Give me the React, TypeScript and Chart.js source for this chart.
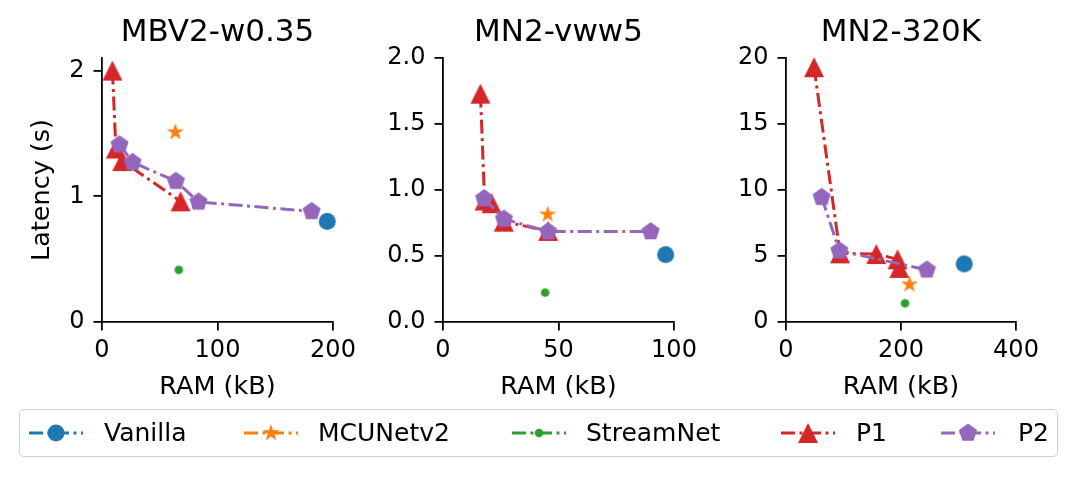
import React, { useEffect, useRef } from "react";
import { Chart, registerables } from "chart.js";

Chart.register(...registerables);

type Pt = [number, number];
type Shape = "circle" | "star" | "triangle" | "pentagon";

const FONT = "'DejaVu Sans', sans-serif";

// series (same order in every panel)
const seriesNames = ["Vanilla", "MCUNetv2", "StreamNet", "P1", "P2"];
const seriesColors = ["#1f77b4", "#ff7f0e", "#2ca02c", "#d62728", "#9467bd"];
const seriesShapes: Shape[] = ["circle", "star", "circle", "triangle", "pentagon"];
const seriesSizes = [8.5, 9, 4.3, 10, 9.5];

// MBV2-w0.35
const mbvVanilla: Pt[] = [[195, 0.8]];
const mbvMcunet: Pt[] = [[63.5, 1.51]];
const mbvStream: Pt[] = [[66.5, 0.415]];
const mbvP1: Pt[] = [[9, 2.0], [12, 1.38], [17.5, 1.28], [68, 0.96]];
const mbvP2: Pt[] = [[15.2, 1.41], [26.5, 1.27], [64, 1.12], [83.5, 0.955], [181.5, 0.88]];
const mbvXTicks = [0, 100, 200];
const mbvYTicks = [0, 1, 2];

// MN2-vww5
const vwwVanilla: Pt[] = [[96.4, 0.51]];
const vwwMcunet: Pt[] = [[45.3, 0.815]];
const vwwStream: Pt[] = [[44.2, 0.223]];
const vwwP1: Pt[] = [[16.2, 1.73], [18, 0.92], [21, 0.9], [26.3, 0.76], [45.5, 0.69]];
const vwwP2: Pt[] = [[17.8, 0.935], [26.4, 0.78], [45.5, 0.685], [89.9, 0.685]];
const vwwXTicks = [0, 50, 100];
const vwwYTicks = [0, 0.5, 1.0, 1.5, 2.0];

// MN2-320K
const k320Vanilla: Pt[] = [[310, 4.4]];
const k320Mcunet: Pt[] = [[214.7, 2.85]];
const k320Stream: Pt[] = [[207, 1.42]];
const k320P1: Pt[] = [[48.7, 19.3], [94, 5.2], [157, 5.15], [194, 4.75], [197, 4.1]];
const k320P2: Pt[] = [[62, 9.45], [92.8, 5.4], [245, 3.95]];
const k320XTicks = [0, 200, 400];
const k320YTicks = [0, 5, 10, 15, 20];

const DASH = [14, 4.5, 3, 4.5];
const CANVAS_H = 420;
const AREA_BOTTOM = 322;

interface PanelCfg {
  title: string;
  series: Pt[][];
  xMax: number;
  yMax: number;
  xTicks: number[];
  yTicks: number[];
  yDecimals: number;
  yTitle: boolean;
  canvasLeft: number;
  yAxisWidth: number;
  areaRight: number;
}

const panels: PanelCfg[] = [
  {
    title: "MBV2-w0.35",
    series: [mbvVanilla, mbvMcunet, mbvStream, mbvP1, mbvP2],
    xMax: 200, yMax: 2.1, xTicks: mbvXTicks, yTicks: mbvYTicks, yDecimals: 0,
    yTitle: true, canvasLeft: 0, yAxisWidth: 102, areaRight: 333,
  },
  {
    title: "MN2-vww5",
    series: [vwwVanilla, vwwMcunet, vwwStream, vwwP1, vwwP2],
    xMax: 100, yMax: 2.0, xTicks: vwwXTicks, yTicks: vwwYTicks, yDecimals: 1,
    yTitle: false, canvasLeft: 348, yAxisWidth: 95, areaRight: 674,
  },
  {
    title: "MN2-320K",
    series: [k320Vanilla, k320Mcunet, k320Stream, k320P1, k320P2],
    xMax: 400, yMax: 20, xTicks: k320XTicks, yTicks: k320YTicks, yDecimals: 0,
    yTitle: false, canvasLeft: 691, yAxisWidth: 95, areaRight: 1016,
  },
];

function shapePoints(shape: Shape, r: number): Pt[] {
  const pts: Pt[] = [];
  if (shape === "triangle") return [[0, -r], [-r, r], [r, r]];
  if (shape === "pentagon") {
    for (let k = 0; k < 5; k++) {
      const a = -Math.PI / 2 + (k * 2 * Math.PI) / 5;
      pts.push([r * Math.cos(a), r * Math.sin(a)]);
    }
  }
  if (shape === "star") {
    for (let k = 0; k < 10; k++) {
      const a = -Math.PI / 2 + (k * Math.PI) / 5;
      const rr = k % 2 === 0 ? r : r * 0.382;
      pts.push([rr * Math.cos(a), rr * Math.sin(a)]);
    }
  }
  return pts;
}

function markerCanvas(shape: Shape, r: number, color: string) {
  const size = Math.ceil(2 * r + 2);
  const c = document.createElement("canvas");
  c.width = size;
  c.height = size;
  const ctx = c.getContext("2d")!;
  ctx.fillStyle = color;
  ctx.beginPath();
  if (shape === "circle") {
    ctx.arc(size / 2, size / 2, r, 0, Math.PI * 2);
  } else {
    shapePoints(shape, r).forEach(([x, y], i) => {
      if (i === 0) ctx.moveTo(size / 2 + x, size / 2 + y);
      else ctx.lineTo(size / 2 + x, size / 2 + y);
    });
    ctx.closePath();
  }
  ctx.fill();
  return c;
}

function Panel({ cfg }: { cfg: PanelCfg }) {
  const canvasRef = useRef<HTMLCanvasElement | null>(null);
  const width = cfg.areaRight - cfg.canvasLeft + 30;

  useEffect(() => {
    if (!canvasRef.current) return;
    const markers = seriesShapes.map((s, i) => markerCanvas(s, seriesSizes[i], seriesColors[i]));
    const tickFont = { family: FONT, size: 24 };
    const labelFont = { family: FONT, size: 25.5 };

    const chart = new Chart(canvasRef.current, {
      type: "scatter",
      data: {
        datasets: cfg.series.map((pts, i) => ({
          label: seriesNames[i],
          data: pts.map(([x, y]) => ({ x, y })),
          showLine: true,
          borderColor: seriesColors[i],
          backgroundColor: seriesColors[i],
          borderWidth: 3,
          borderDash: DASH,
          borderCapStyle: "butt",
          pointStyle: markers[i],
          pointRadius: seriesSizes[i],
          pointHoverRadius: seriesSizes[i],
          clip: false,
          order: 5 - i,
        })),
      },
      options: {
        animation: false,
        responsive: false,
        events: [],
        layout: { padding: { left: 0, right: 30, top: 0, bottom: 0 } },
        plugins: {
          legend: { display: false },
          tooltip: { enabled: false },
          title: {
            display: true,
            text: cfg.title,
            color: "#000",
            fullSize: false,
            font: { family: FONT, size: 31, weight: "normal" },
            padding: { top: 14, bottom: 6.8 },
          },
        },
        scales: {
          x: {
            type: "linear",
            min: 0,
            max: cfg.xMax,
            afterBuildTicks: (s: any) => {
              s.ticks = cfg.xTicks.map((v) => ({ value: v }));
            },
            afterFit: (s: any) => {
              s.height = CANVAS_H - AREA_BOTTOM;
            },
            grid: { drawOnChartArea: false, drawTicks: true, tickLength: 8.5, color: "#000", lineWidth: 1.8 },
            border: { display: true, color: "#000", width: 1.8 },
            ticks: { color: "#000", font: tickFont, padding: 6, maxRotation: 0, autoSkip: false },
            title: {
              display: true,
              text: "RAM (kB)",
              color: "#000",
              font: labelFont,
              padding: { top: 0, bottom: 17 },
            },
          },
          y: {
            type: "linear",
            min: 0,
            max: cfg.yMax,
            afterBuildTicks: (s: any) => {
              s.ticks = cfg.yTicks.map((v) => ({ value: v }));
            },
            afterFit: (s: any) => {
              s.width = cfg.yAxisWidth;
            },
            grid: { drawOnChartArea: false, drawTicks: true, tickLength: 8.5, color: "#000", lineWidth: 1.8 },
            border: { display: true, color: "#000", width: 1.8 },
            ticks: {
              color: "#000",
              font: tickFont,
              padding: 9,
              callback: (v: any) => Number(v).toFixed(cfg.yDecimals),
            },
            title: {
              display: cfg.yTitle,
              text: "Latency (s)",
              color: "#000",
              font: labelFont,
              padding: { top: 27, bottom: 0 },
            },
          },
        },
      } as any,
    });

    return () => {
      chart.destroy();
    };
  }, [cfg]);

  return (
    <canvas
      ref={canvasRef}
      width={width}
      height={CANVAS_H}
      style={{ position: "absolute", left: cfg.canvasLeft, top: 0, width, height: CANVAS_H }}
    />
  );
}

const legendHandleX = [29, 244, 512, 781, 941];
const legendTextX = [104, 318, 586, 856, 1018];
const LEGEND_Y = 433;

function LegendItem({ i }: { i: number }) {
  const w = 54;
  const h = 26;
  const color = seriesColors[i];
  const r = seriesSizes[i];
  const shape = seriesShapes[i];
  return (
    <>
      <svg
        width={w}
        height={h}
        style={{ position: "absolute", left: legendHandleX[i], top: LEGEND_Y - h / 2, overflow: "visible" }}
      >
        <line x1={0} y1={h / 2} x2={w} y2={h / 2} stroke={color} strokeWidth={3} strokeDasharray={DASH.join(" ")} />
        {shape === "circle" ? (
          <circle cx={w / 2} cy={h / 2} r={r} fill={color} />
        ) : (
          <polygon
            points={shapePoints(shape, r).map(([x, y]) => `${w / 2 + x},${h / 2 + y}`).join(" ")}
            fill={color}
          />
        )}
      </svg>
      <div
        style={{
          position: "absolute",
          left: legendTextX[i],
          top: LEGEND_Y - 15,
          height: 30,
          lineHeight: "30px",
          fontFamily: FONT,
          fontSize: 25,
          color: "#000",
          whiteSpace: "nowrap",
        }}
      >
        {seriesNames[i]}
      </div>
    </>
  );
}

export default function App() {
  return (
    <div
      style={{
        position: "absolute",
        left: 0,
        top: 0,
        width: 1079,
        height: 477,
        background: "#fff",
        overflow: "hidden",
      }}
    >
      {panels.map((p) => (
        <Panel key={p.title} cfg={p} />
      ))}
      <div
        style={{
          position: "absolute",
          left: 19,
          top: 409,
          width: 1039,
          height: 48,
          boxSizing: "border-box",
          border: "1.3px solid #d0d0d0",
          borderRadius: 5,
        }}
      />
      {seriesNames.map((_, i) => (
        <LegendItem key={i} i={i} />
      ))}
    </div>
  );
}
